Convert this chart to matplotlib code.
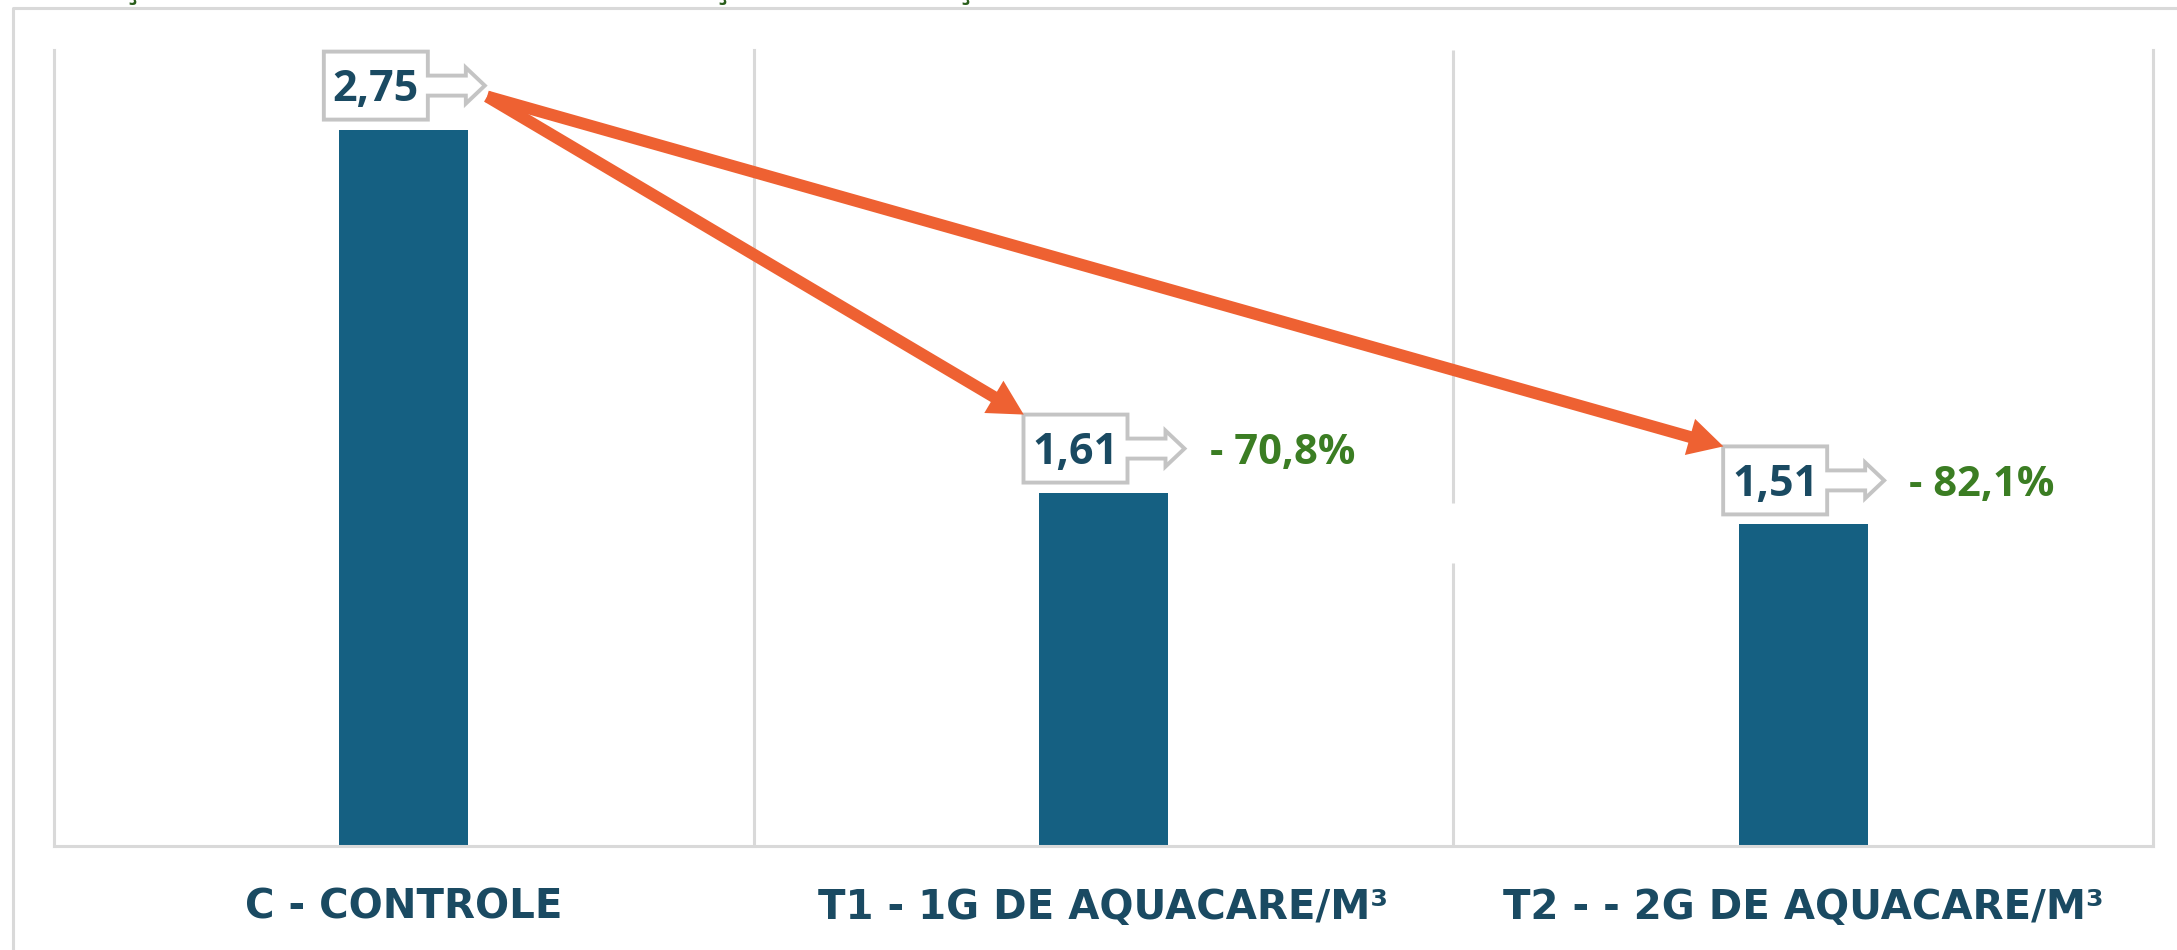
import matplotlib
matplotlib.use("Agg")
import matplotlib.pyplot as plt
import matplotlib.transforms as mtransforms
from matplotlib.patches import Polygon
from matplotlib.lines import Line2D

# data
categories = ["C - CONTROLE", "T1 - 1G DE AQUACARE/M³", "T2 - - 2G DE AQUACARE/M³"]
values = [2.75, 1.61, 1.51]
reduction_labels = ["", "- 70,8%", "- 82,1%"]

BAR = "#156082"
TEXT = "#1a4a62"
GREEN = "#3b7d23"
ORANGE = "#ee6132"
GRID = "#d9d9d9"

W, H = 2177, 950
fig = plt.figure(figsize=(W / 100, H / 100), dpi=100)
ax = fig.add_axes([54 / W, 1 - 846 / H, (2153 - 54) / W, (846 - 50) / H])

x = list(range(len(categories)))
ax.set_xlim(-0.5, 2.5)
ax.set_ylim(0.5, 3.0)

# category separators (the middle one has a small gap in the original)
for gx in [-0.5, 0.5, 2.5]:
    ax.axvline(gx, color=GRID, lw=2.2, zorder=0, clip_on=False)
ax.vlines([1.5, 1.5], [0.5, 1.577], [1.389, 3.0], color=GRID, lw=2.2, zorder=0)

ax.bar(x, values, width=0.184, color=BAR, zorder=2)

for s in ["top", "left", "right"]:
    ax.spines[s].set_visible(False)
ax.spines["bottom"].set_color(GRID)
ax.spines["bottom"].set_linewidth(2.2)
ax.set_yticks([])
ax.set_xticks(x, categories, fontsize=29, fontweight="bold", color=TEXT,
              family="DejaVu Sans")
ax.tick_params(axis="x", length=0, pad=30)

# callout shape (pixels, relative to the top centre of each bar)
shape = [(-80, 10), (24, 10), (24, 34), (62, 34), (62, 26), (81, 44),
         (62, 62), (62, 54), (24, 54), (24, 78), (-80, 78)]

for i, v in enumerate(values):
    trans = mtransforms.Affine2D() + mtransforms.ScaledTranslation(i, v, ax.transData)
    poly = Polygon(shape, closed=True, transform=trans, facecolor="white",
                   edgecolor="#c4c4c4", lw=2.8, zorder=4, clip_on=False)
    ax.add_artist(poly)
    ax.annotate(f"{v:.2f}".replace(".", ","), xy=(i, v), xytext=(-28, 40),
                textcoords="offset pixels", ha="center", va="center",
                fontsize=31, fontweight="bold", color=TEXT, family="Open Sans",
                zorder=5)
    if reduction_labels[i]:
        ax.annotate(reduction_labels[i], xy=(i, v), xytext=(106, 39),
                    textcoords="offset pixels", ha="left", va="center",
                    fontsize=30, fontweight="bold", color=GREEN,
                    family="Open Sans", zorder=5)

# orange arrows from the control value to each treatment
for i in [1, 2]:
    ax.annotate("", xy=(i - 0.114, values[i] + 0.245),
                xytext=(0.119, values[0] + 0.104),
                arrowprops=dict(arrowstyle="simple,head_length=2.5,head_width=2.7,tail_width=0.86",
                                mutation_scale=10, fc=ORANGE, ec="none",
                                shrinkA=0, shrinkB=0),
                zorder=6, annotation_clip=False)

# outer frame (only left and top edges are visible)
fig.add_artist(Line2D([13 / W, 13 / W, 1], [0, 1 - 7.5 / H, 1 - 7.5 / H],
                      transform=fig.transFigure, color=GRID, lw=2.2))

# the title is cut off at the top, only the cedillas remain visible
for cx in [132, 722, 965]:
    fig.text(cx / W, 1 + 1 / H, "ç", ha="center", va="baseline",
             fontsize=22, fontweight="bold", color="#2a5e1c")

fig.savefig("out.png", dpi=100)
